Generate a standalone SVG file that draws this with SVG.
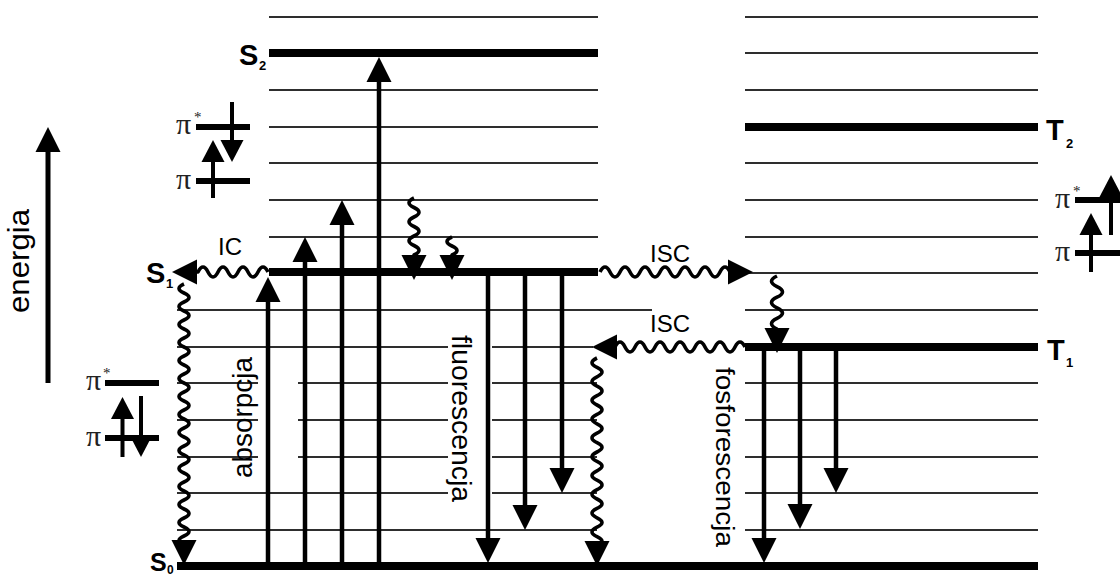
<svg xmlns="http://www.w3.org/2000/svg" width="1120" height="577" viewBox="0 0 1120 577">
<defs>
<style>
.vib{stroke:#2e2e2e;stroke-width:2;fill:none}
.lvl{stroke:#000;stroke-width:8;fill:none}
.arr{stroke:#000;stroke-width:4.5;fill:none;marker-end:url(#ah)}
.wav{stroke:#000;stroke-width:3.6;fill:none;marker-end:url(#ah);stroke-linejoin:round}
.orb{stroke:#000;stroke-width:6;fill:none}
.spin{stroke:#000;stroke-width:4;fill:none;marker-end:url(#ahs)}
.lab{font-family:"Liberation Sans",Arial,sans-serif;fill:#000}
.st{font-family:"Liberation Sans",Arial,sans-serif;font-weight:bold;fill:#000}
.pi{font-family:"Liberation Serif","Times New Roman",serif;fill:#222}
</style>
<marker id="ah" markerUnits="userSpaceOnUse" viewBox="0 -14 26 28" markerWidth="26" markerHeight="28" refX="15" refY="0" orient="auto"><path d="M0,-12.5 L25,0 L0,12.5 Z" fill="#000"/></marker>
<marker id="ahs" markerUnits="userSpaceOnUse" viewBox="0 -12 23 24" markerWidth="23" markerHeight="24" refX="12" refY="0" orient="auto"><path d="M0,-11.5 L22,0 L0,11.5 Z" fill="#000"/></marker>
</defs>
<rect width="1120" height="577" fill="#fff"/>

<g id="vibrational-singlet" class="vib">
<path d="M269,17 H598 M269,90 H598 M269,127 H598 M269,163 H598 M269,200 H598 M269,237 H598"/>
<path d="M177,310 H652"/>
<path d="M177,347 H448 M492,347 H593"/>
<path d="M177,383 H258 M298,383 H448 M492,383 H597"/>
<path d="M177,420 H258 M298,420 H448 M492,420 H597"/>
<path d="M177,457 H258 M298,457 H448 M492,457 H597"/>
<path d="M177,493 H448 M492,493 H597"/>
<path d="M177,530 H597"/>
</g>
<g id="vibrational-triplet" class="vib">
<path d="M745,17 H1038 M745,53 H1038 M745,90 H1038 M745,163 H1038 M745,200 H1038 M745,237 H1038 M745,273 H1038 M745,310 H1038 M745,383 H1038 M745,420 H1038 M745,457 H1038 M745,493 H1038 M745,530 H1038"/>
</g>

<g id="S0">
<path class="lvl" d="M177,566 H1038"/>
<text class="st" x="150" y="571" font-size="25">S</text><text class="st" x="167" y="574" font-size="12">0</text>
</g>
<g id="S1">
<path class="lvl" d="M269,272 H598"/>
<text class="st" x="146" y="283" font-size="29">S</text><text class="st" x="166" y="288" font-size="13">1</text>
</g>
<g id="S2">
<path class="lvl" d="M269,53 H598"/>
<text class="st" x="239" y="65" font-size="29">S</text><text class="st" x="259" y="70" font-size="13">2</text>
</g>
<g id="T1">
<path class="lvl" d="M745,347 H1038"/>
<text class="st" x="1047" y="360" font-size="29">T</text><text class="st" x="1066" y="367" font-size="13">1</text>
</g>
<g id="T2">
<path class="lvl" d="M745,127 H1038"/>
<text class="st" x="1046" y="140" font-size="29">T</text><text class="st" x="1066" y="148" font-size="13">2</text>
</g>

<g id="energy-axis">
<path d="M48,383 V137" stroke="#000" stroke-width="5" fill="none" marker-end="url(#ah)"/>
<text class="lab" transform="translate(29,313) rotate(-90)" font-size="30" textLength="104" lengthAdjust="spacingAndGlyphs">energia</text>
</g>

<g id="orbitals-S-excited">
<path class="orb" d="M196,127 H250 M196,181 H250"/>
<path class="spin" d="M213,198 V150"/>
<path class="spin" d="M232,102 V152"/>
<text class="pi" x="176" y="134" font-size="30">π</text><text class="pi" x="194" y="122" font-size="15">*</text>
<text class="pi" x="176" y="189" font-size="30">π</text>
</g>
<g id="orbitals-ground">
<path class="orb" d="M105,383 H159 M105,438 H159"/>
<path class="spin" d="M122.5,457 V407"/>
<path class="spin" d="M141,396 V447"/>
<text class="pi" x="86" y="390" font-size="30">π</text><text class="pi" x="103" y="378" font-size="15">*</text>
<text class="pi" x="86" y="446" font-size="30">π</text>
</g>
<g id="orbitals-triplet">
<path class="orb" d="M1075,200 H1129 M1075,253 H1129"/>
<path class="spin" d="M1111,235 V185"/>
<path class="spin" d="M1091,272 V223"/>
<text class="pi" x="1055" y="208" font-size="30">π</text><text class="pi" x="1073" y="196" font-size="15">*</text>
<text class="pi" x="1055" y="261" font-size="30">π</text>
</g>

<g id="connectors">
<g id="absorption">
<path class="arr" d="M268,566 V287"/>
<path class="arr" d="M305,566 V247"/>
<path class="arr" d="M342,566 V210"/>
<path class="arr" d="M379,566 V67"/>
</g>
<g id="fluorescence">
<path class="arr" d="M488,272 V553"/>
<path class="arr" d="M525,272 V520"/>
<path class="arr" d="M562,272 V483"/>
</g>
<g id="phosphorescence">
<path class="arr" d="M764,347 V553"/>
<path class="arr" d="M800,347 V519"/>
<path class="arr" d="M836,347 V483"/>
</g>
<g id="nonradiative">
<path class="wav" d="M414,198 q -10,4.75 0,9.5 t 0,9.5 t 0,9.5 t 0,9.5 t 0,9.5 t 0,9.5 V270"/>
<path class="wav" d="M452,237 q -10,4.5 0,9 t 0,9 V270"/>
<path class="wav" d="M268,272 q -5,-10 -10,0 t -10,0 t -10,0 t -10,0 t -10,0 t -10,0 t -10,0 H182"/>
<path class="wav" d="M184,284 q -10,4.5 0,9 t 0,9 t 0,9 t 0,9 t 0,9 t 0,9 t 0,9 t 0,9 t 0,9 t 0,9 t 0,9 t 0,9 t 0,9 t 0,9 t 0,9 t 0,9 t 0,9 t 0,9 t 0,9 t 0,9 t 0,9 t 0,9 t 0,9 t 0,9 t 0,9 t 0,9 t 0,9 t 0,9 t 0,9 V555"/>
<path class="wav" d="M600,272 q 5,-10 10,0 t 10,0 t 10,0 t 10,0 t 10,0 t 10,0 t 10,0 t 10,0 t 10,0 t 10,0 t 10,0 t 10,0 t 10,0 H743"/>
<path class="wav" d="M777,276 q -11,5.3 0,10.6 t 0,10.6 t 0,10.6 t 0,10.6 t 0,10.6 V343"/>
<path class="wav" d="M745,347 q -5,-10 -10,0 t -10,0 t -10,0 t -10,0 t -10,0 t -10,0 t -10,0 t -10,0 t -10,0 t -10,0 t -10,0 t -10,0 t -10,0 H602"/>
<path class="wav" d="M597,358 q -10,4.7 0,9.4 t 0,9.4 t 0,9.4 t 0,9.4 t 0,9.4 t 0,9.4 t 0,9.4 t 0,9.4 t 0,9.4 t 0,9.4 t 0,9.4 t 0,9.4 t 0,9.4 t 0,9.4 t 0,9.4 t 0,9.4 t 0,9.4 t 0,9.4 t 0,9.4 t 0,9.4 V556"/>
</g>
</g>

<g id="labels">
<text class="lab" x="218" y="255" font-size="24">IC</text>
<text class="lab" x="650" y="262" font-size="24">ISC</text>
<text class="lab" x="650" y="332" font-size="24">ISC</text>
<text class="lab" transform="translate(252,478) rotate(-90)" font-size="28" textLength="121" lengthAdjust="spacingAndGlyphs">absorpcja</text>
<text class="lab" transform="translate(452,335) rotate(90)" font-size="28" textLength="167" lengthAdjust="spacingAndGlyphs">fluorescencja</text>
<text class="lab" transform="translate(716,367) rotate(90)" font-size="26" textLength="180" lengthAdjust="spacingAndGlyphs">fosforescencja</text>
</g>
</svg>
